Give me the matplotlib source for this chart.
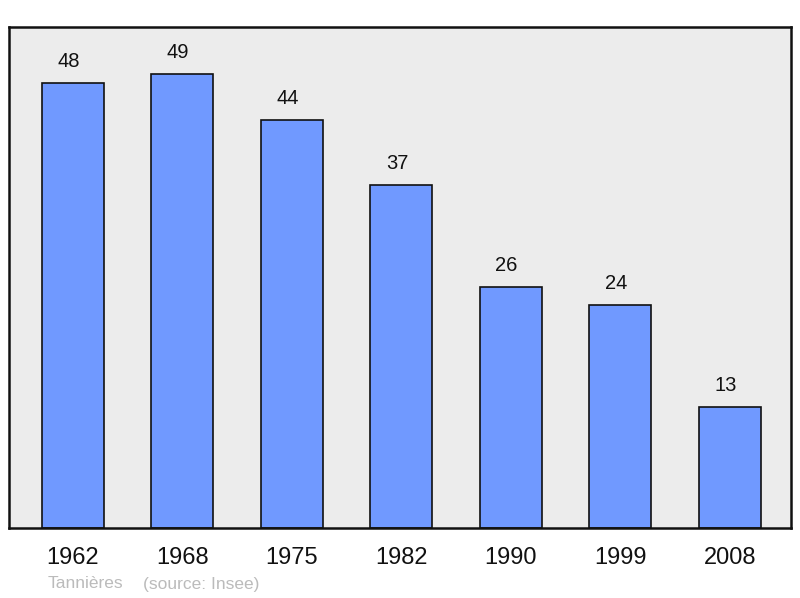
import matplotlib
matplotlib.use('Agg')
import matplotlib.pyplot as plt

# population data
years = ['1962', '1968', '1975', '1982', '1990', '1999', '2008']
population = [48, 49, 44, 37, 26, 24, 13]

plt.rcParams['font.family'] = ['Liberation Sans', 'DejaVu Sans']

fig = plt.figure(figsize=(8, 5.98), dpi=100)
ax = fig.add_axes([0.01125, 0.117, 0.9775, 0.838])
ax.set_facecolor('#ececec')

x = range(len(years))
ax.bar(x, population, width=0.566, color='#7099ff', edgecolor='#111111', linewidth=1.2)

for i, v in enumerate(population):
    ax.text(i - 0.04, v + 1.3, str(v), ha='center', va='bottom', fontsize=14.5, color='#111111')

ax.set_xlim(-0.584, 6.56)
ax.set_ylim(0, 54.04)
ax.set_yticks([])
ax.set_xticks(list(x))
ax.set_xticklabels(years, fontsize=17, color='#111111')
ax.tick_params(axis='x', length=0, pad=14)
for s in ax.spines.values():
    s.set_linewidth(1.8)
    s.set_color('#111111')

fig.text(48 / 800, 1 - 584 / 598, 'Tannières', fontsize=12.5, color='#bbbbbb', va='center')
fig.text(143 / 800, 1 - 584 / 598, '(source: Insee)', fontsize=12.5, color='#bbbbbb', va='center')

fig.savefig('out.png', dpi=100)
